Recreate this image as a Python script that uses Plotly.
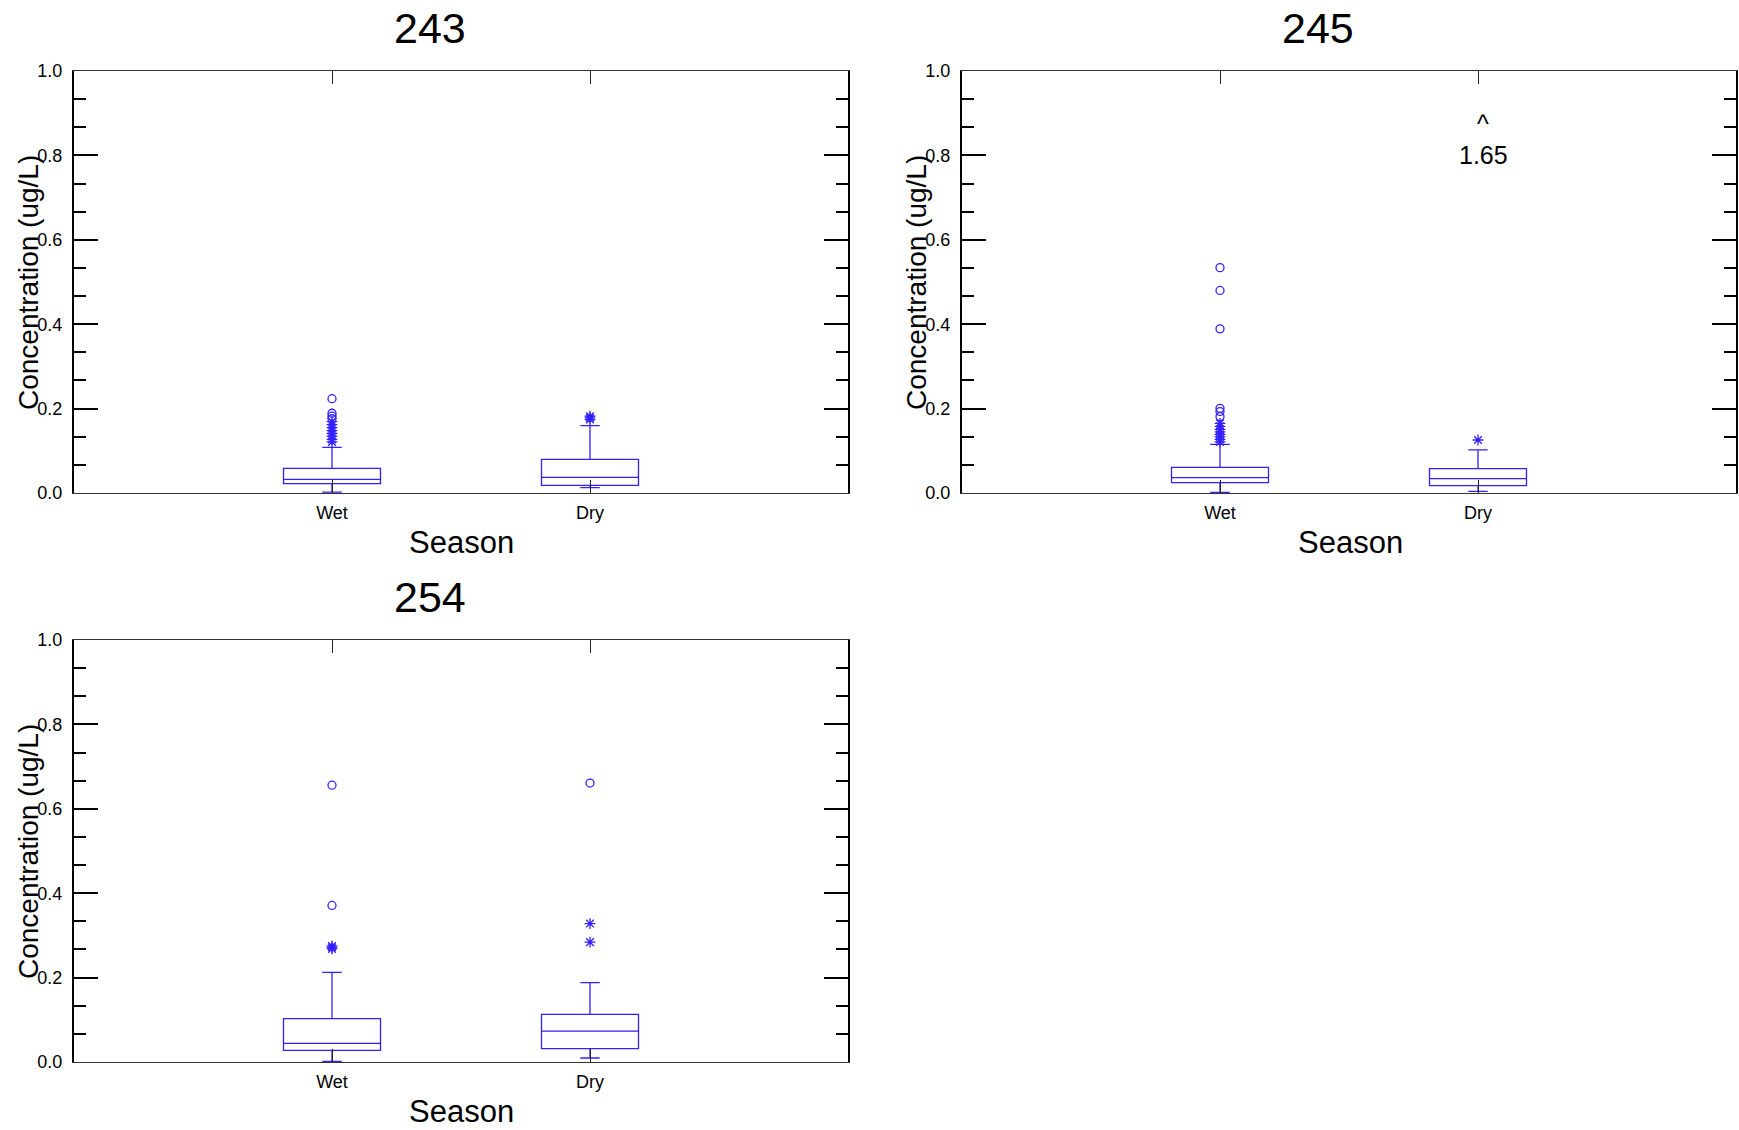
import plotly.graph_objects as go

# ---------------- data ----------------
categories = ["Wet", "Dry"]
cat_pos = [0, 1]
sites = ["243", "245", "254"]

# site 243
s243_lower = [0.002, 0.0126]
s243_q1 = [0.022, 0.018]
s243_median = [0.0325, 0.037]
s243_q3 = [0.0585, 0.0798]
s243_upper = [0.108, 0.1595]
s243_wet_far = [0.2235, 0.189, 0.182, 0.176]
s243_wet_out = [0.169, 0.162, 0.155, 0.148, 0.141, 0.134, 0.127, 0.121]
s243_dry_far = []
s243_dry_out = [0.182, 0.178, 0.174]

# site 245
s245_lower = [0.0016, 0.004]
s245_q1 = [0.0245, 0.0174]
s245_median = [0.0363, 0.034]
s245_q3 = [0.0609, 0.0577]
s245_upper = [0.1153, 0.102]
s245_wet_far = [0.534, 0.480, 0.389, 0.2006, 0.193, 0.181]
s245_wet_out = [0.165, 0.158, 0.151, 0.145, 0.139, 0.133, 0.127, 0.121]
s245_dry_far = []
s245_dry_out = [0.1256]
s245_offscale_value = "1.65"

# site 254
s254_lower = [0.0014, 0.0095]
s254_q1 = [0.0275, 0.0315]
s254_median = [0.0441, 0.0734]
s254_q3 = [0.1026, 0.1127]
s254_upper = [0.2126, 0.188]
s254_wet_far = [0.656, 0.371]
s254_wet_out = [0.275, 0.2718, 0.268]
s254_dry_far = [0.661]
s254_dry_out = [0.328, 0.284]

y_tickvals = [0.0, 0.2, 0.4, 0.6, 0.8, 1.0]
y_ticktext = ["0.0", "0.2", "0.4", "0.6", "0.8", "1.0"]

# ---------------- layout geometry ----------------
W, H = 1739, 1130
BLUE = "#3320ff"
FONT = "Liberation Sans, Arial, sans-serif"

panels = [
    # (site, x0px, x1px, y0px(top), y1px(bottom), data)
    ("243", 74, 848, 71, 493,
     (s243_lower, s243_q1, s243_median, s243_q3, s243_upper,
      s243_wet_far, s243_wet_out, s243_dry_far, s243_dry_out)),
    ("245", 962, 1736, 71, 493,
     (s245_lower, s245_q1, s245_median, s245_q3, s245_upper,
      s245_wet_far, s245_wet_out, s245_dry_far, s245_dry_out)),
    ("254", 74, 848, 640, 1062,
     (s254_lower, s254_q1, s254_median, s254_q3, s254_upper,
      s254_wet_far, s254_wet_out, s254_dry_far, s254_dry_out)),
]

fig = go.Figure()
annotations = []

for i, (site, x0, x1, ytop, ybot, d) in enumerate(panels):
    n = "" if i == 0 else str(i + 1)
    xa, ya = "x" + n, "y" + n
    lower, q1, med, q3, upper, wfar, wout, dfar, dout = d

    fig.add_trace(go.Box(
        x=cat_pos, q1=q1, median=med, q3=q3,
        lowerfence=lower, upperfence=upper,
        boxpoints=False, width=0.376, whiskerwidth=0.2,
        line=dict(color=BLUE, width=1.3),
        fillcolor="rgba(0,0,0,0)",
        xaxis=xa, yaxis=ya, showlegend=False, hoverinfo="skip",
    ))
    far_x = [cat_pos[0]] * len(wfar) + [cat_pos[1]] * len(dfar)
    far_y = wfar + dfar
    if far_y:
        fig.add_trace(go.Scatter(
            x=far_x, y=far_y, mode="markers",
            marker=dict(symbol="circle-open", size=8, color=BLUE,
                        line=dict(width=1.3, color=BLUE)),
            xaxis=xa, yaxis=ya, showlegend=False, hoverinfo="skip"))
    out_x = [cat_pos[0]] * len(wout) + [cat_pos[1]] * len(dout)
    out_y = wout + dout
    if out_y:
        fig.add_trace(go.Scatter(
            x=out_x, y=out_y, mode="markers",
            marker=dict(symbol="asterisk-open", size=9, color=BLUE,
                        line=dict(width=1.3, color=BLUE)),
            xaxis=xa, yaxis=ya, showlegend=False, hoverinfo="skip"))

    xdom = [x0 / W, x1 / W]
    ydom = [1 - ybot / H, 1 - ytop / H]
    fig.update_layout(**{
        ("xaxis" + n): dict(
            domain=xdom, range=[-1, 2], anchor=ya, automargin=False,
            tickvals=cat_pos, ticktext=categories,
            ticks="inside", ticklen=13, tickwidth=1.3, tickcolor="#222",
            showline=True, linecolor="#333", linewidth=1.3, mirror="ticks",
            showgrid=False, zeroline=False, fixedrange=True,
            tickfont=dict(family=FONT, size=18, color="black"),
            ticklabelstandoff=3,
        ),
        ("yaxis" + n): dict(
            domain=ydom, range=[0, 1], anchor=xa, automargin=False,
            tickvals=y_tickvals, ticktext=y_ticktext,
            ticks="inside", ticklen=24, tickwidth=1.5, tickcolor="black",
            minor=dict(dtick=0.2 / 3, tick0=0, ticks="inside", ticklen=12,
                       tickwidth=1.5, tickcolor="black", showgrid=False),
            showline=True, linecolor="black", linewidth=2, mirror="ticks",
            showgrid=False, zeroline=False, fixedrange=True,
            tickfont=dict(family=FONT, size=18, color="black"),
            ticklabelstandoff=6,
        ),
    })

    cx = (x0 + x1) / 2
    # panel title
    annotations.append(dict(
        text=site, xref="paper", yref="paper",
        x=(cx - 31) / W, y=1 - (ytop - 43) / H,
        xanchor="center", yanchor="middle", showarrow=False,
        font=dict(family=FONT, size=43, color="black")))
    # x axis title
    annotations.append(dict(
        text="Season", xref="paper", yref="paper",
        x=(cx + 1) / W, y=1 - (ybot + 49) / H,
        xanchor="center", yanchor="middle", showarrow=False,
        font=dict(family=FONT, size=31, color="black")))
    # y axis title
    annotations.append(dict(
        text="Concentration (ug/L)", xref="paper", yref="paper",
        x=(x0 - 46) / W, y=1 - ((ytop + ybot) / 2 + 1) / H,
        xanchor="center", yanchor="middle", textangle=-90, showarrow=False,
        font=dict(family=FONT, size=28, color="black")))

# off-scale marker for site 245 (Dry)
annotations.append(dict(
    text="^", xref="x2", yref="y2", x=cat_pos[1], y=0.875, xshift=5,
    xanchor="center", yanchor="middle", showarrow=False,
    font=dict(family=FONT, size=25, color="black")))
annotations.append(dict(
    text=s245_offscale_value, xref="x2", yref="y2", x=cat_pos[1], y=0.80,
    xshift=5, xanchor="center", yanchor="middle", showarrow=False,
    font=dict(family=FONT, size=25, color="black")))

fig.update_layout(
    width=W, height=H,
    margin=dict(l=0, r=0, t=0, b=0, autoexpand=False),
    paper_bgcolor="white", plot_bgcolor="white",
    boxmode="overlay",
    annotations=annotations,
    font=dict(family=FONT, color="black"),
)

fig.write_html(
    "out.html",
    config={"displayModeBar": False},
    post_script="document.body.style.margin='0px';document.body.style.overflow='hidden';",
)
